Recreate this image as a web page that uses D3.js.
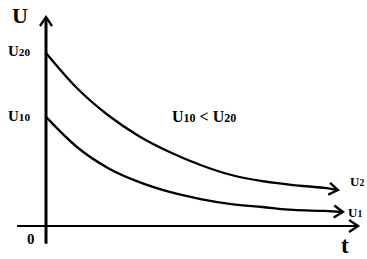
<!DOCTYPE html>
<html>
<head>
<meta charset="utf-8">
<script src="https://cdn.jsdelivr.net/npm/d3@7"></script>
<style>
  body { margin: 0; background: #fff; }
  text { font-family: "Liberation Serif", "Times New Roman", serif; font-weight: bold; fill: #000; }
</style>
</head>
<body>
<script>
// time samples (arbitrary units)
var t2 = [0, 1, 2, 3, 4, 5, 6, 7, 8, 9, 9.45];
var u2 = [8.28, 6.60, 5.31, 4.31, 3.54, 2.92, 2.44, 2.15, 1.96, 1.82, 1.72];
var t1 = [0, 1, 2, 3, 4, 5, 6, 7, 8, 9, 9.61];
var u1 = [5.22, 3.78, 2.78, 2.11, 1.63, 1.29, 1.05, 0.91, 0.77, 0.72, 0.67];

var width = 367,
    height = 259;

var svg = d3.select("body")
    .append("svg")
    .attr("width", width)
    .attr("height", height);

var x = d3.scaleLinear().domain([0, 10]).range([46, 355]);
var y = d3.scaleLinear().domain([0, 10]).range([226, 17]);

//open chevron drawn at (px,py) pointing along angle a
function arrow(px, py, a){
    var L = 9, W = 6;
    var c = Math.cos(a), s = Math.sin(a);
    var p1 = [px - L * c + W * s, py - L * s - W * c],
        p2 = [px - L * c - W * s, py - L * s + W * c];
    svg.append("path")
        .attr("d", "M" + p1 + "L" + [px, py] + "L" + p2)
        .attr("fill", "none")
        .attr("stroke", "#000")
        .attr("stroke-width", 2.3)
        .attr("stroke-linejoin", "miter");
}

//axes
var xEnd = x(10.1);
svg.append("line")
    .attr("x1", x(-0.94)).attr("x2", xEnd)
    .attr("y1", y(0)).attr("y2", y(0))
    .attr("stroke", "#000").attr("stroke-width", 2);
arrow(xEnd, y(0), 0);

var yEnd = y(10);
svg.append("line")
    .attr("x1", x(0)).attr("x2", x(0))
    .attr("y1", y(-0.85)).attr("y2", yEnd + 1)
    .attr("stroke", "#000").attr("stroke-width", 3);
arrow(x(0), yEnd, -Math.PI / 2);

//curves
var line = d3.line()
    .x(function(d){ return x(d[0]); })
    .y(function(d){ return y(d[1]); })
    .curve(d3.curveMonotoneX);

[[t2, u2], [t1, u1]].forEach(function(s){
    var pts = d3.zip(s[0], s[1]);
    svg.append("path")
        .datum(pts)
        .attr("d", line)
        .attr("fill", "none")
        .attr("stroke", "#000")
        .attr("stroke-width", 2.3);
    var a = pts[pts.length - 2], b = pts[pts.length - 1];
    arrow(x(b[0]), y(b[1]), Math.atan2(y(b[1]) - y(a[1]), x(b[0]) - x(a[0])));
});

//labels with subscripts
function label(px, py, main, sub, size){
    var t = svg.append("text")
        .attr("x", px).attr("y", py)
        .style("font-size", size + "px")
        .text(main);
    if (sub) t.append("tspan").style("font-size", (size * 0.75) + "px").text(sub);
    return t;
}

label(12, 23, "U", null, 22);
label(8, y(u2[0]) + 3, "U", "20", 15);
label(8, y(u1[0]) + 4, "U", "10", 15);
label(27, 244, "0", null, 15);
label(341, 253, "t", null, 23);
label(350, 186, "U", "2", 13);
label(348, 217, "U", "1", 13);

var cmp = label(172, 122, "U", "10", 16);
cmp.append("tspan").text(" < U");
cmp.append("tspan").style("font-size", (16 * 0.75) + "px").text("20");
</script>
</body>
</html>
